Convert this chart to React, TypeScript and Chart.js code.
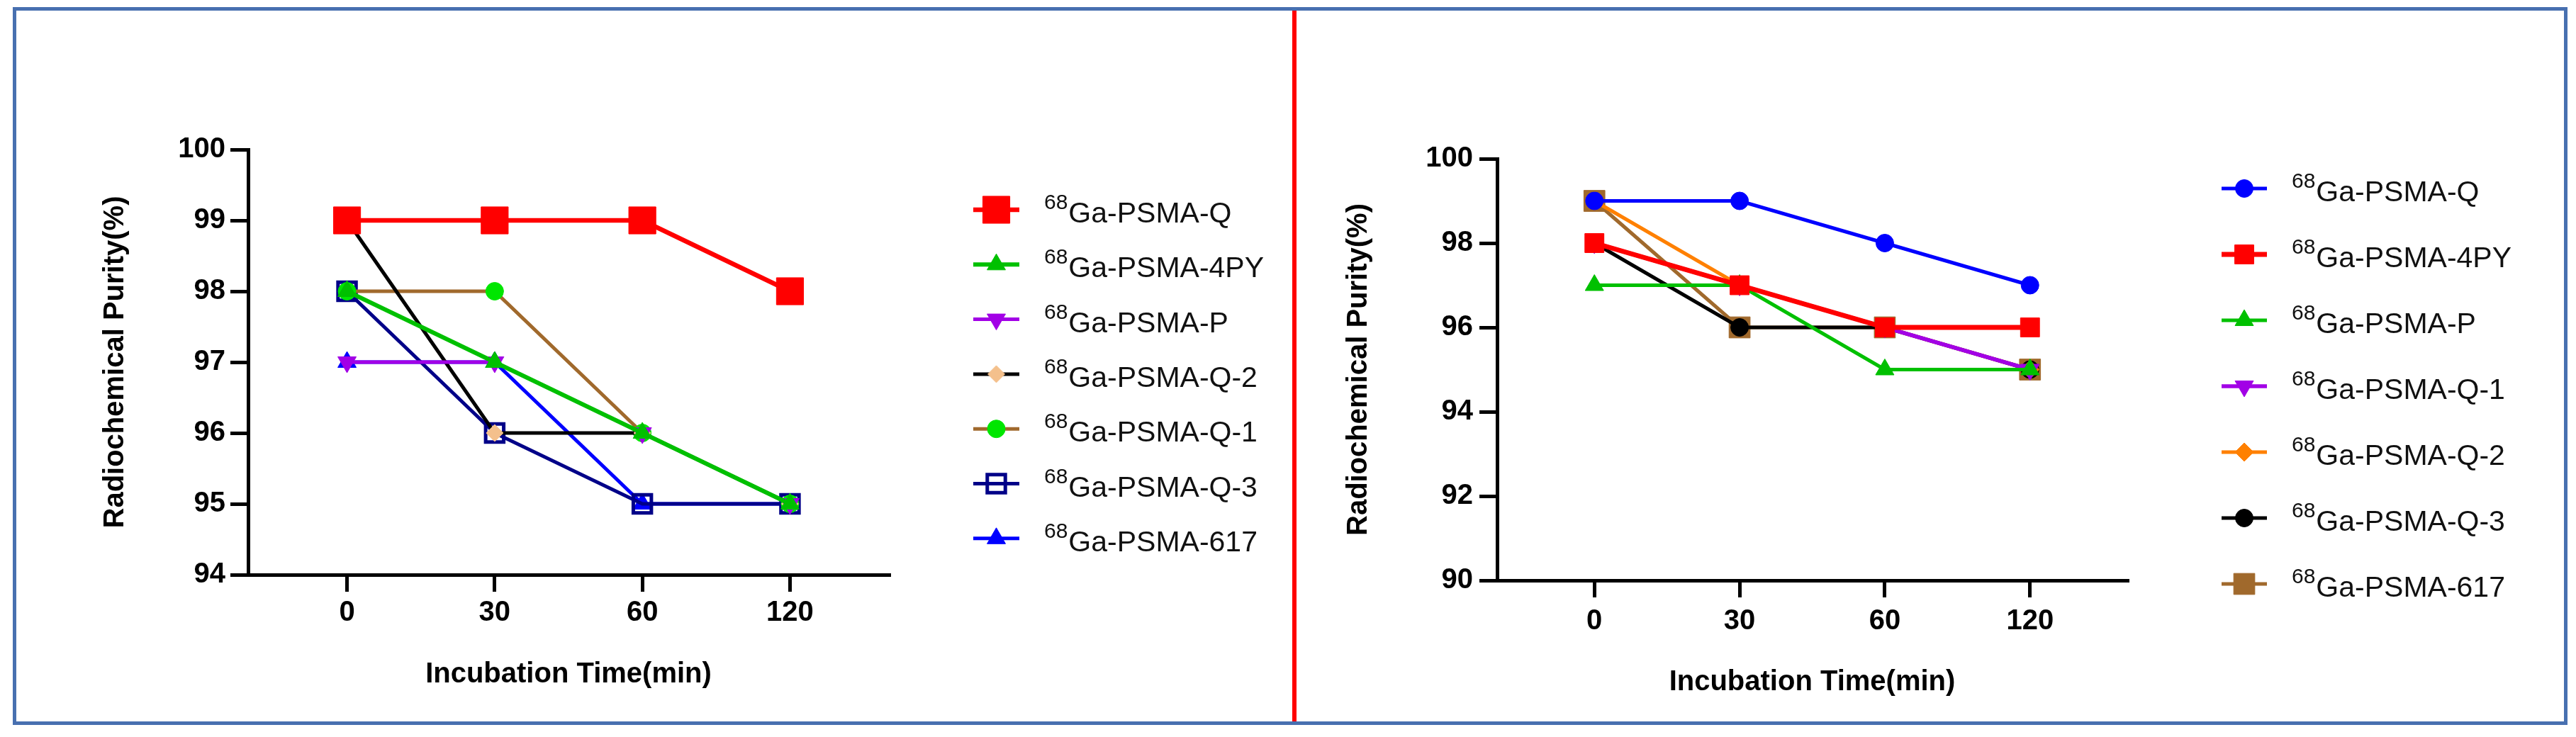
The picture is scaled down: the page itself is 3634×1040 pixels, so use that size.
import React, { useEffect, useRef } from 'react';
import { Chart, registerables } from 'chart.js';
import { drawPoint } from 'chart.js/helpers';

Chart.register(...registerables);

const FONT = "'Liberation Sans', Arial, Helvetica, sans-serif";

// ---------- data ----------
const timeCategories = ['0', '30', '60', '120'];
const isotope = '68';

// left panel
const leftNames = ['Ga-PSMA-Q', 'Ga-PSMA-4PY', 'Ga-PSMA-P', 'Ga-PSMA-Q-2', 'Ga-PSMA-Q-1', 'Ga-PSMA-Q-3', 'Ga-PSMA-617'];
const leftQ = [99, 99, 99, 98];
const left4PY = [98, 97, 96, 95];
const leftP = [97, 97, 96, 95];
const leftQ2 = [99, 96, 96, 95];
const leftQ1 = [98, 98, 96, 95];
const leftQ3 = [98, 96, 95, 95];
const left617 = [97, 97, 95, 95];
const leftYTicks = [94, 95, 96, 97, 98, 99, 100];

// right panel
const rightNames = ['Ga-PSMA-Q', 'Ga-PSMA-4PY', 'Ga-PSMA-P', 'Ga-PSMA-Q-1', 'Ga-PSMA-Q-2', 'Ga-PSMA-Q-3', 'Ga-PSMA-617'];
const rightQ = [99, 99, 98, 97];
const right4PY = [98, 97, 96, 96];
const rightP = [97, 97, 95, 95];
const rightQ1 = [98, 97, 96, 95];
const rightQ2 = [99, 97, 96, 95];
const rightQ3 = [98, 96, 96, 95];
const right617 = [99, 96, 96, 95];
const rightYTicks = [90, 92, 94, 96, 98, 100];

const xTitle = 'Incubation Time(min)';
const yTitle = 'Radiochemical Purity(%)';

// ---------- styles ----------
type Style = {
  line: string; width: number; style: string; rot?: number; r: number;
  fill: string; stroke: string; bw: number;
};

const leftStyles: Style[] = [
  { line: '#ff0000', width: 6.5, style: 'rect', r: 27, fill: '#ff0000', stroke: '#ff0000', bw: 1 },
  { line: '#00c000', width: 6, style: 'triangle', r: 15, fill: '#00c000', stroke: '#00c000', bw: 1 },
  { line: '#a200e6', width: 5, style: 'triangle', rot: 180, r: 15, fill: '#a200e6', stroke: '#a200e6', bw: 1 },
  { line: '#000000', width: 5, style: 'rectRot', r: 12, fill: '#f4c08c', stroke: '#f4c08c', bw: 1 },
  { line: '#a0692c', width: 5, style: 'circle', r: 12.5, fill: '#00e600', stroke: '#00e600', bw: 1 },
  { line: '#000088', width: 5, style: 'rect', r: 18, fill: 'rgba(0,0,0,0)', stroke: '#000088', bw: 5 },
  { line: '#0000ff', width: 5, style: 'triangle', r: 15, fill: '#0000ff', stroke: '#0000ff', bw: 1 },
];

const rightStyles: Style[] = [
  { line: '#0000ff', width: 5, style: 'circle', r: 12.5, fill: '#0000ff', stroke: '#0000ff', bw: 1 },
  { line: '#ff0000', width: 7, style: 'rect', r: 19, fill: '#ff0000', stroke: '#ff0000', bw: 1 },
  { line: '#00c000', width: 5, style: 'triangle', r: 15, fill: '#00c000', stroke: '#00c000', bw: 1 },
  { line: '#a200e6', width: 5.5, style: 'triangle', rot: 180, r: 15, fill: '#a200e6', stroke: '#a200e6', bw: 1 },
  { line: '#ff8000', width: 5, style: 'rectRot', r: 13, fill: '#ff8000', stroke: '#ff8000', bw: 1 },
  { line: '#000000', width: 5, style: 'circle', r: 12.5, fill: '#000000', stroke: '#000000', bw: 1 },
  { line: '#a0692c', width: 5, style: 'rect', r: 21, fill: '#a0692c', stroke: '#a0692c', bw: 1 },
];

// ---------- legend plugin ----------
const gpLegend = {
  id: 'gpLegend',
  afterDraw(chart: any, _args: any, opts: any) {
    const { ctx } = chart;
    chart.data.datasets.forEach((ds: any, i: number) => {
      const y = opts.top + i * opts.step;
      ctx.save();
      ctx.strokeStyle = ds.borderColor;
      ctx.lineWidth = ds.borderWidth;
      ctx.beginPath();
      ctx.moveTo(opts.x1, y);
      ctx.lineTo(opts.x2, y);
      ctx.stroke();
      ctx.fillStyle = ds.pointBackgroundColor;
      ctx.strokeStyle = ds.pointBorderColor;
      ctx.lineWidth = ds.pointBorderWidth;
      drawPoint(ctx, {
        pointStyle: ds.pointStyle,
        rotation: ds.pointRotation || 0,
        radius: ds.pointRadius,
        borderWidth: ds.pointBorderWidth,
      } as any, (opts.x1 + opts.x2) / 2, y);
      ctx.fillStyle = '#111111';
      ctx.textAlign = 'left';
      ctx.textBaseline = 'alphabetic';
      ctx.font = `30px ${FONT}`;
      ctx.fillText(isotope, opts.supX, y - 1);
      const w = ctx.measureText(isotope).width;
      ctx.font = `41px ${FONT}`;
      ctx.fillText(ds.label, opts.supX + w + 1, y + 18);
      ctx.restore();
    });
  },
};

type Panel = {
  names: string[];
  series: number[][];
  styles: Style[];
  yTicks: number[];
  yMin: number; yMax: number; yStep: number;
  padding: { left: number; right: number; top: number; bottom: number };
  yWidth: number; xHeight: number;
  xPad: number; yPad: number;
  legend: { x1: number; x2: number; supX: number; top: number; step: number };
};

const leftPanel: Panel = {
  names: leftNames,
  series: [leftQ, left4PY, leftP, leftQ2, leftQ1, leftQ3, left617],
  styles: leftStyles,
  yTicks: leftYTicks, yMin: 94, yMax: 100, yStep: 1,
  padding: { left: 139, right: 566, top: 211, bottom: 64 },
  yWidth: 211, xHeight: 165,
  xPad: 6, yPad: 7,
  legend: { x1: 1373, x2: 1438, supX: 1473, top: 296, step: 77.3 },
};

const rightPanel: Panel = {
  names: rightNames,
  series: [rightQ, right4PY, rightP, rightQ1, rightQ2, rightQ3, right617],
  styles: rightStyles,
  yTicks: rightYTicks, yMin: 90, yMax: 100, yStep: 2,
  padding: { left: 63, right: 633, top: 224, bottom: 53 },
  yWidth: 219, xHeight: 168,
  xPad: 10, yPad: 9,
  legend: { x1: 1304, x2: 1368, supX: 1403, top: 266, step: 93 },
};

function makeConfig(p: Panel): any {
  const datasets = p.series.map((vals, i) => {
    const s = p.styles[i];
    return {
      label: p.names[i],
      data: vals.map((v, j) => ({ x: j, y: v })),
      borderColor: s.line,
      borderWidth: s.width,
      pointStyle: s.style,
      pointRotation: s.rot || 0,
      pointRadius: s.r,
      pointBackgroundColor: s.fill,
      pointBorderColor: s.stroke,
      pointBorderWidth: s.bw,
      tension: 0,
      fill: false,
      clip: false,
    };
  });
  const tickFont = { family: FONT, size: 40, weight: 'bold' as const };
  return {
    type: 'line',
    data: { datasets },
    options: {
      responsive: false,
      devicePixelRatio: 1,
      animation: false,
      events: [],
      layout: { padding: p.padding },
      plugins: {
        legend: { display: false },
        tooltip: { enabled: false },
        gpLegend: p.legend,
      },
      scales: {
        x: {
          type: 'linear',
          min: -0.67,
          max: timeCategories.length - 1 + 0.67,
          afterBuildTicks: (scale: any) => {
            scale.ticks = timeCategories.map((_, i) => ({ value: i }));
          },
          afterFit: (scale: any) => { scale.height = p.xHeight; },
          ticks: {
            callback: (v: any) => timeCategories[v] ?? '',
            font: tickFont,
            color: '#000',
            padding: p.xPad,
            maxRotation: 0,
            autoSkip: false,
          },
          grid: {
            display: true,
            drawOnChartArea: false,
            drawTicks: true,
            tickLength: 24,
            tickWidth: 5,
            tickColor: '#000',
            color: '#000',
            lineWidth: 5,
          },
          border: { display: true, width: 5, color: '#000' },
          title: { display: true, text: xTitle, font: tickFont, color: '#000', padding: 0 },
        },
        y: {
          type: 'linear',
          min: p.yMin,
          max: p.yMax,
          afterBuildTicks: (scale: any) => {
            scale.ticks = p.yTicks.map((v) => ({ value: v }));
          },
          afterFit: (scale: any) => { scale.width = p.yWidth; },
          ticks: {
            stepSize: p.yStep,
            font: tickFont,
            color: '#000',
            padding: p.yPad,
            autoSkip: false,
          },
          grid: {
            display: true,
            drawOnChartArea: false,
            drawTicks: true,
            tickLength: 25,
            tickWidth: 5,
            tickColor: '#000',
            color: '#000',
            lineWidth: 5,
          },
          border: { display: true, width: 5, color: '#000' },
          title: { display: true, text: yTitle, font: tickFont, color: '#000', padding: 0 },
        },
      },
    },
    plugins: [gpLegend],
  };
}

function ChartCanvas({ panel, left, width }: { panel: Panel; left: number; width: number }) {
  const ref = useRef<HTMLCanvasElement | null>(null);
  useEffect(() => {
    if (!ref.current) return;
    const chart = new Chart(ref.current, makeConfig(panel));
    return () => chart.destroy();
  }, [panel]);
  return (
    <canvas
      ref={ref}
      width={width}
      height={1040}
      style={{ position: 'absolute', left, top: 0, width, height: 1040, display: 'block' }}
    />
  );
}

export default function App() {
  return (
    <div style={{ position: 'fixed', left: 0, top: 0, width: 3634, height: 1040, background: '#fff', overflow: 'hidden' }}>
      <div style={{ position: 'absolute', left: 18, top: 10, width: 3604, height: 1013, border: '5px solid rgb(72,112,176)', boxSizing: 'border-box' }} />
      <div style={{ position: 'absolute', left: 1823, top: 15, width: 6, height: 1003, background: '#ff0000' }} />
      <ChartCanvas panel={leftPanel} left={0} width={1820} />
      <ChartCanvas panel={rightPanel} left={1830} width={1804} />
    </div>
  );
}
